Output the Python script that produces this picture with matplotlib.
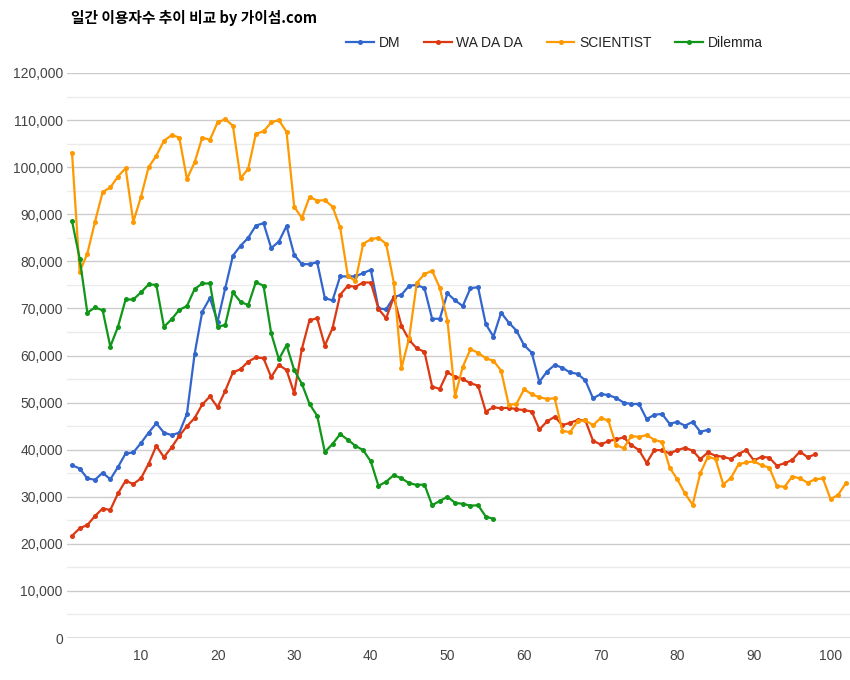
import matplotlib
matplotlib.use("Agg")
import matplotlib.pyplot as plt
from matplotlib.ticker import FuncFormatter, MultipleLocator

dm = [36.7, 36.0, 33.9, 33.6, 35.1, 33.7, 36.3, 39.2, 39.4, 41.4,
      43.6, 45.6, 43.6, 43.1, 43.6, 47.6, 60.3, 69.3, 72.2, 67.2,
      74.3, 81.2, 83.3, 85.0, 87.6, 88.1, 82.8, 84.2, 87.5, 81.4,
      79.4, 79.4, 79.8, 72.2, 71.7, 76.8, 76.8, 76.8, 77.5, 78.2,
      70.0, 69.8, 72.4, 72.9, 74.8, 75.0, 74.3, 67.8, 67.8, 73.2,
      71.7, 70.5, 74.3, 74.5, 66.7, 64.0, 69.1, 67.0, 65.3, 62.2,
      60.6, 54.4, 56.6, 58.0, 57.4, 56.4, 56.1, 54.7, 50.9, 51.8,
      51.6, 51.0, 50.0, 49.7, 49.7, 46.5, 47.4, 47.6, 45.5, 45.9,
      45.1, 45.9, 43.8, 44.2]

wadada = [21.7, 23.3, 24.0, 25.9, 27.5, 27.2, 30.7, 33.4, 32.7, 33.9,
          37.0, 40.8, 38.4, 40.5, 42.9, 45.0, 46.7, 49.6, 51.3, 49.0,
          52.5, 56.4, 57.1, 58.7, 59.6, 59.4, 55.4, 58.0, 56.9, 52.0,
          61.4, 67.5, 67.9, 62.1, 65.8, 72.9, 74.8, 74.6, 75.5, 75.5,
          69.9, 67.9, 72.4, 66.3, 63.3, 61.5, 60.8, 53.4, 52.9, 56.4,
          55.5, 55.0, 54.1, 53.6, 48.1, 49.0, 48.8, 48.9, 48.6, 48.4,
          48.1, 44.3, 46.0, 47.0, 45.2, 45.7, 46.3, 46.2, 41.9, 41.1,
          41.8, 42.2, 42.6, 41.0, 39.9, 37.2, 39.9, 39.9, 39.2, 39.9,
          40.4, 39.8, 38.0, 39.4, 38.7, 38.5, 38.0, 39.1, 39.9, 37.7,
          38.5, 38.3, 36.6, 37.1, 37.8, 39.6, 38.4, 39.0]

scientist = [103.1, 77.8, 81.6, 88.4, 94.7, 95.7, 98.0, 99.8, 88.4, 93.7,
             100.0, 102.4, 105.6, 106.8, 106.3, 97.5, 101.0, 106.3, 105.8, 109.5,
             110.2, 108.8, 97.6, 99.7, 107.1, 107.6, 109.5, 110.0, 107.5, 91.6,
             89.2, 93.7, 92.9, 93.0, 91.6, 87.2, 76.9, 75.8, 83.7, 84.7,
             85.0, 83.7, 75.5, 57.3, 63.7, 75.4, 77.3, 78.0, 74.4, 67.4,
             51.4, 57.6, 61.3, 60.6, 59.4, 58.9, 56.8, 49.5, 49.7, 52.8,
             51.8, 51.1, 50.8, 50.9, 44.0, 43.7, 46.1, 46.2, 45.2, 46.7,
             46.2, 41.0, 40.3, 42.9, 42.7, 43.1, 42.1, 41.6, 36.2, 33.7,
             30.7, 28.3, 35.0, 38.5, 38.0, 32.6, 34.0, 36.9, 37.3, 37.5,
             36.7, 36.2, 32.3, 32.1, 34.3, 33.9, 33.0, 33.7, 33.9, 29.5,
             30.4, 32.9]

dilemma = [88.6, 80.6, 69.1, 70.2, 69.6, 61.9, 66.1, 71.9, 71.9, 73.4,
           75.1, 75.0, 66.1, 67.7, 69.7, 70.5, 74.1, 75.3, 75.3, 66.1,
           66.5, 73.4, 71.4, 70.7, 75.6, 74.8, 64.7, 59.2, 62.2, 56.9,
           54.0, 49.7, 47.2, 39.5, 41.2, 43.3, 42.1, 40.8, 39.9, 37.5,
           32.3, 33.2, 34.6, 33.9, 32.9, 32.5, 32.6, 28.2, 29.1, 30.0,
           28.7, 28.5, 28.1, 28.2, 25.8, 25.3]

series_names = ["DM", "WA DA DA", "SCIENTIST", "Dilemma"]
series_colors = ["#3366cc", "#dc3912", "#ff9900", "#109618"]
title_text = "일간 이용자수 추이 비교 by 가이섬.com"

plt.rcParams['font.family'] = ['Liberation Sans', 'DejaVu Sans']

fig = plt.figure(figsize=(8.5, 6.8), dpi=100)
L, R, B, T = 67, 850, 42, 607
ax = fig.add_axes([L / 850, B / 680, (R - L) / 850, (T - B) / 680])

data = [dm, wadada, scientist, dilemma]
for name, vals, col in zip(series_names, data, series_colors):
    xs = list(range(1, len(vals) + 1))
    ys = [v * 1000 for v in vals]
    ax.plot(xs, ys, color=col, lw=1.6, marker='o', ms=3.6, mew=0,
            label=name, clip_on=False, zorder=3)

px_per_unit = 7.662
x1_px = 72
ax.set_xlim(1 - (x1_px - L) / px_per_unit, 1 + (R - x1_px) / px_per_unit)
ax.set_ylim(0, 120000)

ax.yaxis.set_major_locator(MultipleLocator(10000))
ax.yaxis.set_minor_locator(MultipleLocator(5000))
ax.xaxis.set_major_locator(MultipleLocator(10))
ax.yaxis.set_major_formatter(FuncFormatter(lambda v, p: f"{int(v):,}"))
ax.grid(True, which='major', axis='y', color='#cccccc', lw=1.0, zorder=0)
ax.grid(True, which='minor', axis='y', color='#ebebeb', lw=1.0, zorder=0)
ax.axhline(0, color='#777777', lw=1.0, zorder=2)
for s in ax.spines.values():
    s.set_visible(False)
ax.tick_params(axis='both', which='both', length=0, labelsize=10, colors='#444444')
ax.tick_params(axis='y', pad=3)
ax.tick_params(axis='x', pad=8)
ax.set_xticks(range(10, 101, 10))

fig.text(71 / 850, 1 - 18 / 680, title_text, fontsize=10.6, fontweight='bold',
         family=['Noto Sans CJK KR', 'DejaVu Sans'], color='#000000',
         ha='left', va='center')

leg = fig.legend(loc='center left', bbox_to_anchor=(346 / 850, 1 - 43 / 680),
                 ncol=4, frameon=False, fontsize=10, handlelength=2.0,
                 handletextpad=0.35, columnspacing=1.7, borderpad=0,
                 borderaxespad=0)
for t in leg.get_texts():
    t.set_color('#222222')

fig.savefig("out.png", dpi=100)
